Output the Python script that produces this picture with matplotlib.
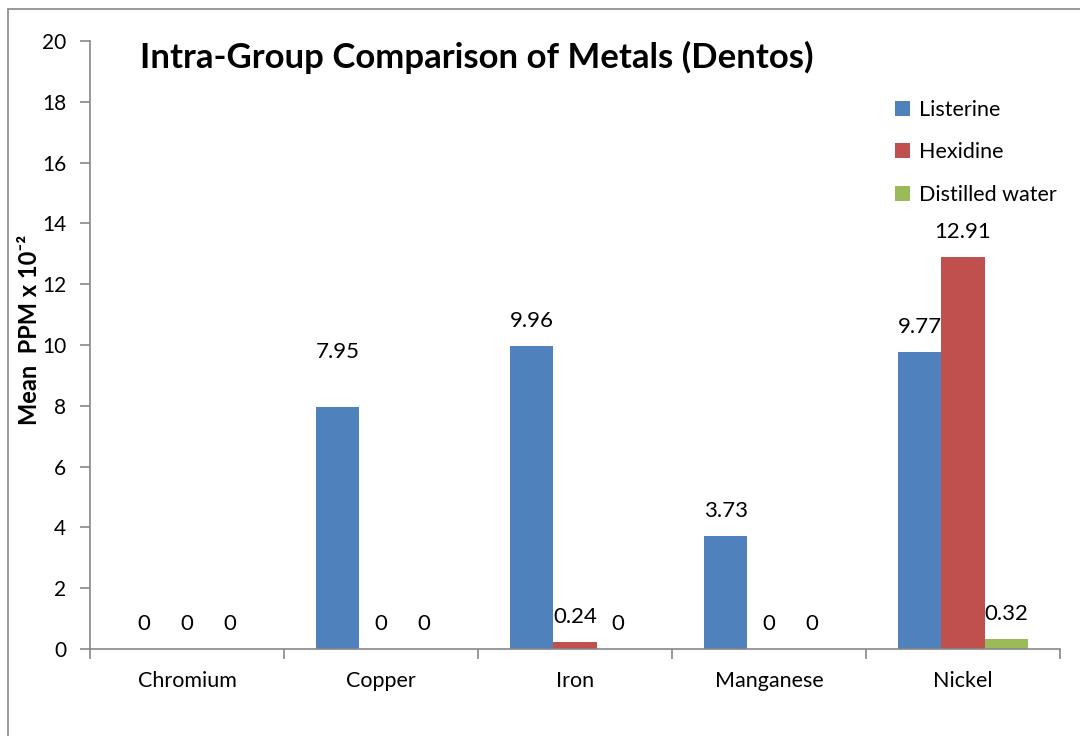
import matplotlib
matplotlib.use('Agg')
import matplotlib.pyplot as plt
import numpy as np
from matplotlib.patches import Rectangle

plt.rcParams['font.family'] = ['Lato', 'DejaVu Sans']

# Data
metals = ['Chromium', 'Copper', 'Iron', 'Manganese', 'Nickel']
listerine = [0, 7.95, 9.96, 3.73, 9.77]
hexidine = [0, 0, 0.24, 0, 12.91]
distilled = [0, 0, 0, 0, 0.32]
series_names = ['Listerine', 'Hexidine', 'Distilled water']
colors = ['#4F81BD', '#C0504D', '#9BBB59']

fig = plt.figure(figsize=(10.8, 7.36), dpi=100)
W, H = 1080, 736
ax = fig.add_axes([90 / W, (H - 649) / H, 970 / W, 608 / H])

# outer chart border
fig.patches.append(Rectangle((8 / W, -0.1), 2, 1 - 9 / H + 0.1, transform=fig.transFigure,
                             fill=False, edgecolor='#878787', linewidth=1.2))

x = np.arange(len(metals))
width = 0.222
for i, (vals, name, c) in enumerate(zip([listerine, hexidine, distilled], series_names, colors)):
    bars = ax.bar(x + (i - 1) * width, vals, width, color=c, label=name)
    for j, (b, v) in enumerate(zip(bars, vals)):
        off = 18
        if i == 0 and j == 1:
            off = 40  # this label sits higher in the original
        ax.annotate(f'{v:g}', (b.get_x() + b.get_width() / 2, v), xytext=(0, off),
                    textcoords='offset points', ha='center', va='center', fontsize=16)

ax.set_xlim(-0.5, len(metals) - 0.5)
ax.set_ylim(0, 20)
ax.set_yticks(range(0, 21, 2))
ax.set_xticks(x)
ax.set_xticklabels(metals, fontsize=15.5)
ax.set_xticks(np.arange(-0.5, len(metals), 1), minor=True)
ax.tick_params(axis='x', which='major', length=0, pad=16)
ax.tick_params(axis='x', which='minor', length=7, width=1.2, color='#878787')
ax.tick_params(axis='y', length=7, width=1.2, color='#878787', labelsize=15, pad=10)

for s in ['top', 'right']:
    ax.spines[s].set_visible(False)
for s in ['left', 'bottom']:
    ax.spines[s].set_color('#878787')
    ax.spines[s].set_linewidth(1.2)

ax.set_ylabel('Mean  PPM x 10\u207b\u00b2', fontsize=17, fontweight='bold', va='center')
ax.yaxis.set_label_coords(-0.062, 0.525)
fig.text(140 / W, 1 - 57 / H, 'Intra-Group Comparison of Metals (Dentos)', fontsize=25,
         fontweight='bold', ha='left', va='center')

ax.legend(loc='upper left', bbox_to_anchor=(0.81, 0.935), frameon=False, fontsize=15.5,
          handlelength=0.7, handleheight=0.7, handletextpad=0.4, labelspacing=1.05)

plt.savefig('out.png', dpi=100)
plt.close()
